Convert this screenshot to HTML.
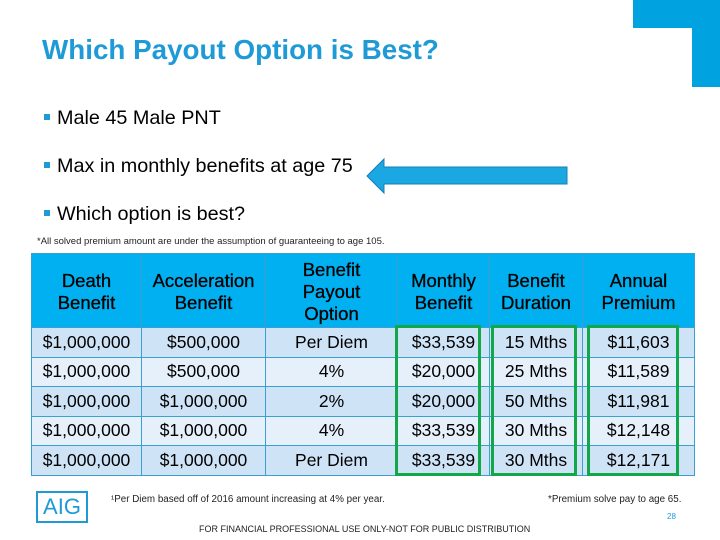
<!DOCTYPE html>
<html><head><meta charset="utf-8"><style>
body{margin:0;width:720px;height:540px;background:#fff;position:relative;overflow:hidden;font-family:"Liberation Sans",Arial,sans-serif}
.a{position:absolute}
.b{position:absolute;left:44px;font-size:19.8px;color:#000;line-height:22px}
.b:before{content:"";display:inline-block;width:6px;height:6px;background:#1e9bd7;margin-right:7px;vertical-align:4px}
table{position:absolute;left:31px;top:253px;border-collapse:collapse;font-size:17.5px}
td,th{border:1px solid #3aa0d0;text-align:center;padding:0;color:#000}
th{background:#00b0f0;font-weight:normal;height:71px;line-height:22px;font-size:18.5px;padding-top:2px;color:#000;-webkit-text-stroke:0.3px #000}
td{height:28.5px}
tr.o td{background:#cfe3f7}tr.e td{background:#e6f0fb}
.g{position:absolute;border:3px solid #12a84a;top:325px;height:145px}
</style></head><body>
<div class="a" style="left:633px;top:0;width:87px;height:28px;background:#00a3e0"></div>
<div class="a" style="left:692px;top:0;width:28px;height:87px;background:#00a3e0"></div>
<div class="a" style="left:42px;top:34px;font-size:27.8px;font-weight:bold;color:#1e9bd7">Which Payout Option is Best?</div>
<div class="b" style="top:107px">Male 45 Male PNT</div>
<div class="b" style="top:155px">Max in monthly benefits at age 75</div>
<div class="b" style="top:203px">Which option is best?</div>
<svg class="a" style="left:0;top:0" width="720" height="540"><polygon points="367,176 384,159 384,167 567,167 567,184 384,184 384,193" fill="#1aa7e2" stroke="#1680b8" stroke-width="1"/></svg>
<div class="a" style="left:37px;top:236px;font-size:9.5px;color:#222">*All solved premium amount are under the assumption of guaranteeing to age 105.</div>
<table>
<tr><th style="width:109px">Death<br>Benefit</th><th style="width:123px">Acceleration<br>Benefit</th><th style="width:131px">Benefit<br>Payout<br>Option</th><th style="width:91px">Monthly<br>Benefit</th><th style="width:92px">Benefit<br>Duration</th><th style="width:111px">Annual<br>Premium</th></tr>
<tr class="o"><td>$1,000,000</td><td>$500,000</td><td>Per Diem</td><td>$33,539</td><td>15 Mths</td><td>$11,603</td></tr>
<tr class="e"><td>$1,000,000</td><td>$500,000</td><td>4%</td><td>$20,000</td><td>25 Mths</td><td>$11,589</td></tr>
<tr class="o"><td>$1,000,000</td><td>$1,000,000</td><td>2%</td><td>$20,000</td><td>50 Mths</td><td>$11,981</td></tr>
<tr class="e"><td>$1,000,000</td><td>$1,000,000</td><td>4%</td><td>$33,539</td><td>30 Mths</td><td>$12,148</td></tr>
<tr class="o"><td>$1,000,000</td><td>$1,000,000</td><td>Per Diem</td><td>$33,539</td><td>30 Mths</td><td>$12,171</td></tr>
</table>
<div class="g" style="left:395px;width:80px"></div>
<div class="g" style="left:491px;width:80px"></div>
<div class="g" style="left:587px;width:86px"></div>
<div class="a" style="left:36px;top:491px;width:48px;height:28px;border:2px solid #1e9bd7;color:#1e9bd7;font-size:22px;line-height:28px;text-align:center">AIG</div>
<div class="a" style="left:111px;top:494px;font-size:9.8px;color:#222">¹Per Diem based off of 2016 amount increasing at 4% per year.</div>
<div class="a" style="left:548px;top:494px;font-size:9.8px;color:#222">*Premium solve pay to age 65.</div>
<div class="a" style="left:667px;top:512px;font-size:8px;color:#1e9bd7">28</div>
<div class="a" style="left:199px;top:524px;font-size:9px;color:#222">FOR FINANCIAL PROFESSIONAL USE ONLY-NOT FOR PUBLIC DISTRIBUTION</div>
</body></html>
